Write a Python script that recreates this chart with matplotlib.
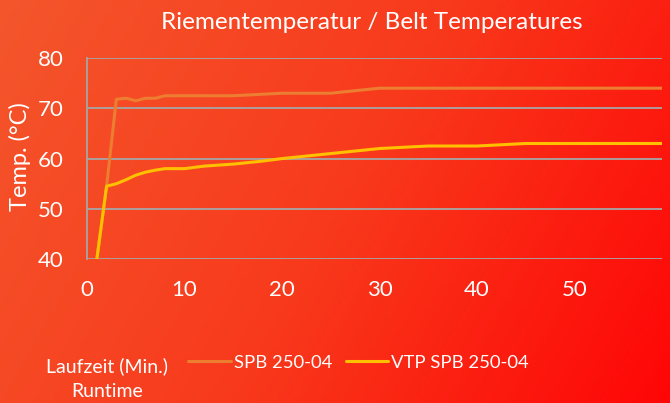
import numpy as np
import matplotlib
matplotlib.use("Agg")
import matplotlib.pyplot as plt
from matplotlib.colors import LinearSegmentedColormap

plt.rcParams['font.family'] = ['Lato', 'DejaVu Sans']

# data
minutes = [1, 2, 3, 4, 5, 6, 7, 8, 9, 10, 12, 15, 18, 20, 22, 25, 28, 30, 35, 40, 45, 50, 55, 59]
spb = [40, 54.5, 71.8, 72.0, 71.5, 72.0, 72.0, 72.5, 72.5, 72.5, 72.5, 72.5, 72.8, 73.0, 73.0, 73.0, 73.6, 74.0, 74.0, 74.0, 74.0, 74.0, 74.0, 74.0]
vtp = [40, 54.5, 55.0, 55.8, 56.7, 57.3, 57.7, 58.0, 58.0, 58.0, 58.5, 58.9, 59.5, 60.0, 60.4, 61.0, 61.6, 62.0, 62.5, 62.5, 63.0, 63.0, 63.0, 63.0]
yticks = [40, 50, 60, 70, 80]
xticks = [0, 10, 20, 30, 40, 50]

fig = plt.figure(figsize=(6.7, 4.03), dpi=100)

# gradient background
bg = fig.add_axes([0, 0, 1, 1], zorder=-10)
gx, gy = np.meshgrid(np.linspace(0, 1, 200), np.linspace(0, 1, 120))
grad = 0.75 * gx + 0.25 * gy
cmap = LinearSegmentedColormap.from_list("bg", ["#F4562C", "#F83A1C", "#FF0606"])
bg.imshow(grad, cmap=cmap, aspect="auto", extent=[0, 1, 0, 1], origin="upper")
bg.axis("off")

ax = fig.add_axes([0.130, 0.357, 0.858, 0.499])
ax.patch.set_alpha(0)
ax.plot(minutes, spb, color="#ED7D31", lw=2.2, label="SPB 250-04", solid_capstyle="round")
ax.plot(minutes, vtp, color="#FFC000", lw=2.2, label="VTP SPB 250-04", solid_capstyle="round")
ax.set_xlim(0, 59)
ax.set_ylim(40, 80)
ax.set_yticks(yticks)
ax.set_xticks(xticks)
ax.grid(axis="y", color="#A6A6A6", lw=1.3)
ax.set_axisbelow(True)
for s in ["top", "right", "bottom"]:
    ax.spines[s].set_visible(False)
ax.spines["left"].set_color("#A6A6A6")
ax.spines["left"].set_linewidth(1.3)
ax.tick_params(length=0, colors="white", labelsize=16)
ax.tick_params(axis="y", pad=17)
ax.tick_params(axis="x", pad=15)
ax.set_ylabel("Temp. (°C)", color="white", fontsize=17)
ax.yaxis.set_label_coords(-0.098, 0.51)

fig.text(0.555, 0.943, "Riementemperatur / Belt Temperatures", color="white",
         fontsize=17.5, ha="center", va="center")
fig.text(0.160, 0.06, "Laufzeit (Min.)\nRuntime", color="white", fontsize=14,
         ha="center", va="center", linespacing=1.55)

leg = fig.legend(loc="center left", bbox_to_anchor=(0.281, 0.1), ncol=2, frameon=False,
                 fontsize=13.3, handlelength=2.3, handletextpad=0.15, columnspacing=0.75,
                 borderaxespad=0, borderpad=0)
for t in leg.get_texts():
    t.set_color("white")

fig.savefig("out.png", dpi=100)
